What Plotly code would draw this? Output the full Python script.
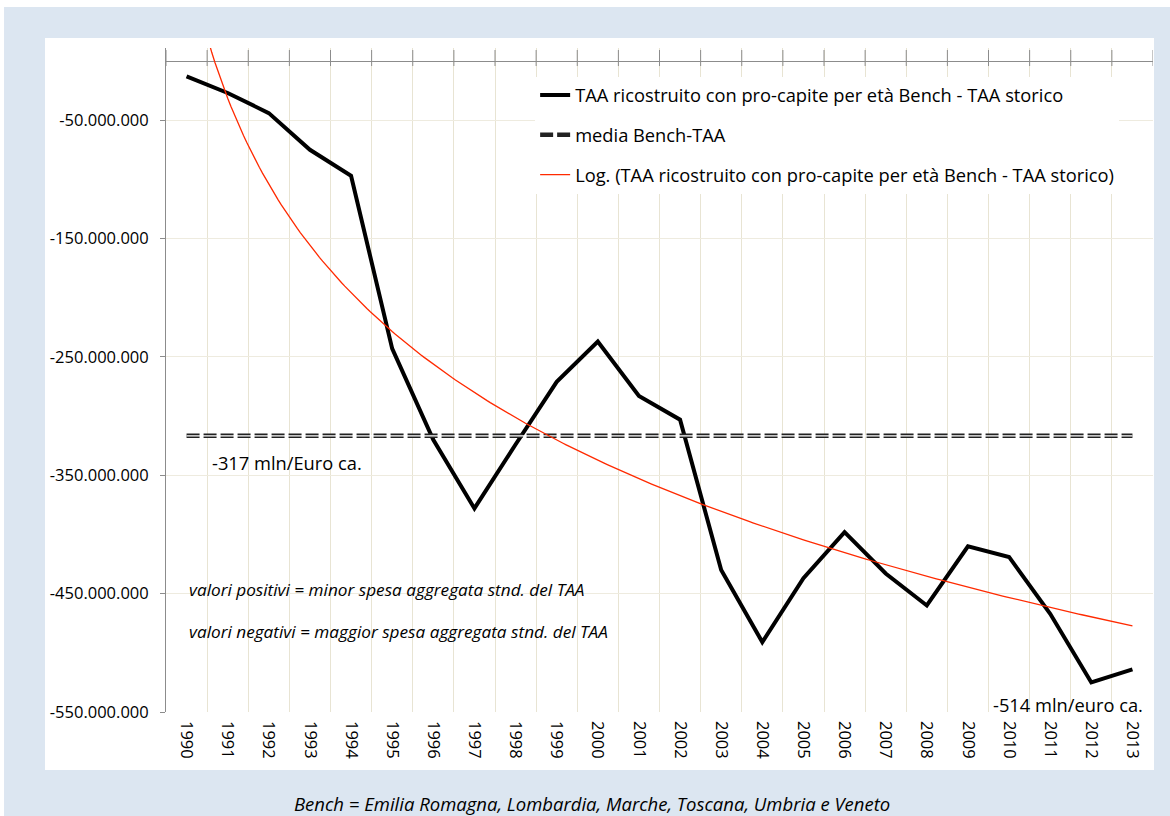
import numpy as np
import plotly.graph_objects as go

# ---------------- data ----------------
years = [str(y) for y in range(1990, 2014)]
diff_mln = [-13, -27, -44, -75, -97, -243, -320, -378, -324, -271, -237, -283,
            -303, -430, -491, -437, -398, -433, -460, -410, -419, -467, -525, -514]
ytick_vals_mln = [-50, -150, -250, -350, -450, -550]
ytick_text = ["-50.000.000", "-150.000.000", "-250.000.000", "-350.000.000",
              "-450.000.000", "-550.000.000"]

name_main = "TAA ricostruito con pro-capite per età Bench - TAA storico"
name_mean = "media Bench-TAA"
name_log = "Log. (TAA ricostruito con pro-capite per età Bench - TAA storico)"

# ---------------- derived ----------------
values = np.array(diff_mln, dtype=float) * 1e6
xpos = np.arange(1, len(years) + 1)
mean_val = values.mean()
# Excel-like logarithmic trendline: y = a*ln(x) + b (least squares)
a, b = np.polyfit(np.log(xpos), values, 1)
xs = np.linspace(1, len(years), 300)
trend = a * np.log(xs) + b
boundaries = np.arange(0.5, len(years) + 1, 1.0)

FONT = "Open Sans"
AXIS = "#8c8c8c"

fig = go.Figure()

fig.add_trace(go.Scatter(
    x=xpos, y=values, mode="lines", name=name_main,
    line=dict(color="black", width=4), legendgroup="g1"))
fig.add_trace(go.Scatter(
    x=[xpos[0], xpos[-1]], y=[mean_val, mean_val], mode="lines", name=name_mean,
    line=dict(color="#222222", width=4.5, dash="13px,4px"), legendgroup="g2"))
fig.add_trace(go.Scatter(
    x=[xpos[0], xpos[-1]], y=[mean_val, mean_val], mode="lines",
    line=dict(color="white", width=1.2), showlegend=False, hoverinfo="skip",
    legendgroup="g2"))
fig.add_trace(go.Scatter(
    x=xs, y=trend, mode="lines", name=name_log,
    line=dict(color="#ff2a00", width=1.3), legendgroup="g3"))

shapes = [
    dict(type="rect", xref="paper", yref="paper", x0=-0.1641, x1=1.02,
         y0=-0.16, y1=1.0617, fillcolor="#dce6f1", line=dict(width=0), layer="below"),
    dict(type="rect", xref="paper", yref="paper", x0=-0.1226, x1=1.001,
         y0=-0.0873, y1=1.0151, fillcolor="white", line=dict(width=0), layer="below"),
]
# tick marks on the category axis crossing at 0
for bnd in boundaries:
    shapes.append(dict(type="line", xref="x", yref="y", x0=bnd, x1=bnd,
                       ysizemode="pixel", yanchor=0, y0=-5, y1=11,
                       line=dict(color=AXIS, width=1)))
fig.update_layout(shapes=shapes)

fig.update_xaxes(
    range=[0.5, len(years) + 0.5],
    tickmode="array", tickvals=xpos, ticktext=years, tickangle=90,
    ticks="", showgrid=False, showline=False, zeroline=False,
    ticklabelstandoff=8,
    tickfont=dict(family=FONT, size=16.5, color="black"),
    minor=dict(tickmode="array", tickvals=boundaries, showgrid=True,
               gridcolor="#e8e4d3", gridwidth=1, ticks=""),
)
fig.update_yaxes(
    range=[-550e6, 11e6],
    tickmode="array", tickvals=[v * 1e6 for v in ytick_vals_mln], ticktext=ytick_text,
    showgrid=True, gridcolor="#eeebdf", gridwidth=1,
    showline=True, linecolor=AXIS, linewidth=1,
    ticks="outside", ticklen=5, tickcolor=AXIS,
    ticklabelstandoff=8,
    zeroline=True, zerolinecolor=AXIS, zerolinewidth=1,
    tickfont=dict(family=FONT, size=16.5, color="black"),
)

ann = dict(xref="paper", yref="paper", showarrow=False, xanchor="left",
           yanchor="middle")
fig.update_layout(annotations=[
    dict(ann, x=0.0446, y=0.3765, text="-317 mln/Euro ca.",
         font=dict(family=FONT, size=18.3, color="black")),
    dict(ann, x=0.0213, y=0.1852,
         text="<i>valori positivi = minor spesa aggregata stnd. del TAA</i>",
         font=dict(family=FONT, size=17.2, color="black")),
    dict(ann, x=0.0213, y=0.1205,
         text="<i>valori negativi = maggior spesa aggregata stnd. del TAA</i>",
         font=dict(family=FONT, size=17.2, color="black")),
    dict(ann, x=0.8359, y=0.011, text="-514 mln/euro ca.",
         font=dict(family=FONT, size=18.3, color="black")),
    dict(xref="paper", yref="paper", showarrow=False, xanchor="center",
         yanchor="middle", x=0.432, y=-0.1375,
         text="<i>Bench = Emilia Romagna, Lombardia, Marche, Toscana, Umbria e Veneto</i>",
         font=dict(family=FONT, size=18.5, color="black")),
])

fig.update_layout(
    width=1170, height=816,
    margin=dict(l=166, r=17, t=48, b=104),
    paper_bgcolor="white", plot_bgcolor="white",
    showlegend=True,
    legend=dict(x=0.374, y=0.957, xanchor="left", yanchor="top",
                bgcolor="white", borderwidth=0,
                font=dict(family=FONT, size=18.3, color="black"),
                traceorder="grouped", tracegroupgap=13, itemwidth=30),
    font=dict(family=FONT),
)

fig.write_html("out.html", post_script="document.body.style.margin='0';",
               config={"displayModeBar": False})
